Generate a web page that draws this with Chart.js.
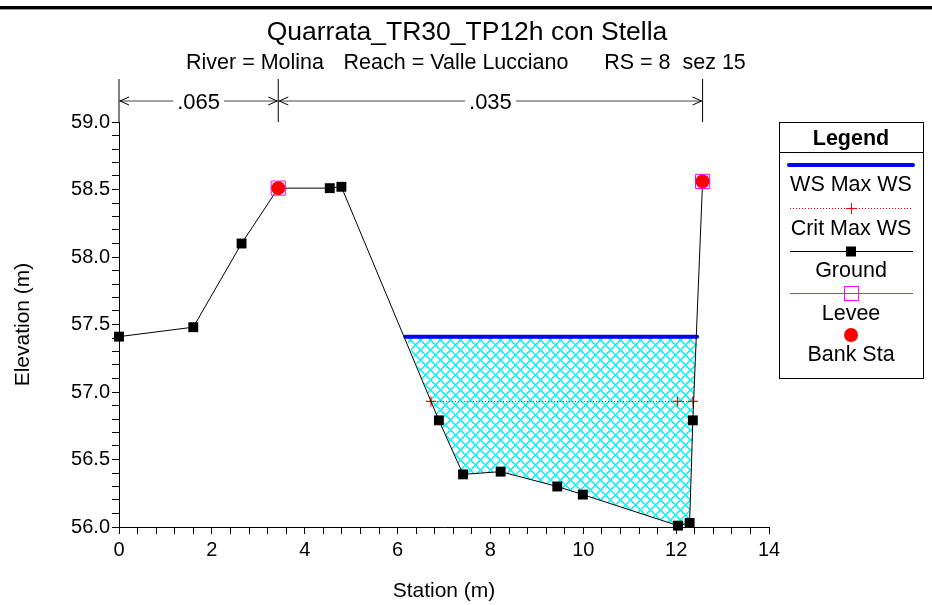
<!DOCTYPE html>
<html>
<head>
<meta charset="utf-8">
<script src="https://cdn.jsdelivr.net/npm/chart.js@4.4.1/dist/chart.umd.min.js"></script>
<style>
  html, body { margin: 0; padding: 0; background: #fff; }
  canvas { display: block; }
</style>
</head>
<body>
<canvas id="xsChart" width="932" height="605"></canvas>
<script>
// ground profile, station (m) / elevation (m)
const groundSta  = [0, 1.60, 2.64, 3.43, 4.54, 4.79, 6.89, 7.41, 8.22, 9.44, 9.99, 12.04, 12.29, 12.36, 12.57];
const groundElev = [57.41, 57.48, 58.10, 58.51, 58.51, 58.52, 56.79, 56.39, 56.41, 56.30, 56.24, 56.01, 56.03, 56.79, 58.56];

// water surface and critical depth
const wsSta = [6.17, 12.45];
const wsElev = 57.41;
const critSta = [6.72, 12.03, 12.36];
const critElev = 56.93;

// levees and bank stations
const bankSta = [3.43, 12.57];
const bankElev = [58.51, 58.56];

// manning n regions
const nSta = [0, 3.43, 12.57];
const nVal = ['.065', '.035'];

// axes
const xRange = [0, 14];
const yRange = [56, 59];
const xMinorStep = 0.4, xLabelStep = 2;
const yMinorStep = 0.1, yLabelStep = 0.5;

const FONT = "'Liberation Sans', Arial, Helvetica, sans-serif";

const canvas = document.getElementById('xsChart');
const ctx = canvas.getContext('2d');

// cyan cross hatch for the wetted area (pixel staircase, like the original)
function makeHatch() {
  const s = 10;
  const c = document.createElement('canvas');
  c.width = s; c.height = s;
  const g = c.getContext('2d');
  g.fillStyle = '#00ffff';
  for (let i = 0; i < s; i++) {
    g.fillRect(i, i, 2, 1);
    g.fillRect((s - 1 - i + s) % s, i, 2, 1);
  }
  g.fillRect(0, s - 1, 1, 1);
  return ctx.createPattern(c, 'repeat');
}

const pts = (xs, ys) => xs.map((x, i) => ({ x: x, y: Array.isArray(ys) ? ys[i] : ys }));

// wetted polygon: water line, then the ground below it back to the start
const wet = pts(groundSta, groundElev).filter(p => p.x > wsSta[0] && p.x < wsSta[1] && p.y < wsElev);
const wetPoly = pts(wsSta, wsElev).concat(wet.reverse());

const isStep = (v, step) => Math.abs(v / step - Math.round(v / step)) < 1e-6;

const annot = {
  id: 'annot',
  beforeDraw(chart) {
    const c = chart.ctx;
    c.save();
    c.fillStyle = '#fff';
    c.fillRect(0, 0, chart.width, chart.height);
    c.restore();
  },
  afterDraw(chart) {
    const c = chart.ctx;
    const x = chart.scales.x;
    const area = chart.chartArea;
    c.save();

    // top rule
    c.fillStyle = '#000';
    c.fillRect(0, 6, chart.width, 3);
    c.fillStyle = '#999';
    c.fillRect(0, 9, chart.width, 1);

    // titles
    c.fillStyle = '#000';
    c.textAlign = 'center';
    c.textBaseline = 'alphabetic';
    c.font = '26.5px ' + FONT;
    c.fillText('Quarrata_TR30_TP12h con Stella', 467, 40);
    c.font = '21.5px ' + FONT;
    c.fillText('River = Molina', 255, 69);
    c.fillText('Reach = Valle Lucciano', 456, 69);
    c.fillText('RS = 8  sez 15', 675, 69);

    // manning n bars
    const xs = nSta.map(v => x.getPixelForValue(v));
    const yA = 101;
    c.strokeStyle = '#000';
    c.lineWidth = 1;
    c.beginPath();
    xs.forEach(px => { c.moveTo(px, 79); c.lineTo(px, area.top); });
    c.stroke();
    c.font = '22px ' + FONT;
    for (let i = 0; i < nVal.length; i++) {
      const a = xs[i], b = xs[i + 1], mid = (a + b) / 2;
      const w = c.measureText(nVal[i]).width;
      c.strokeStyle = '#444';
      c.beginPath();
      c.moveTo(a, yA); c.lineTo(mid - w / 2 - 4, yA);
      c.moveTo(mid + w / 2 + 4, yA); c.lineTo(b, yA);
      c.stroke();
      c.strokeStyle = '#000';
      c.beginPath();
      c.moveTo(a + 10, yA - 4); c.lineTo(a + 1, yA); c.lineTo(a + 10, yA + 4);
      c.moveTo(b - 10, yA - 4); c.lineTo(b - 1, yA); c.lineTo(b - 10, yA + 4);
      c.stroke();
      c.fillText(nVal[i], mid, yA + 8);
    }

    // legend box
    const L = 779, R = 923, T = 122, B = 378, cx = (L + R) / 2;
    c.strokeStyle = '#000';
    c.lineWidth = 1;
    c.strokeRect(L + 0.5, T + 0.5, R - L, B - T);
    c.beginPath(); c.moveTo(L, 152.5); c.lineTo(R, 152.5); c.stroke();
    c.font = 'bold 21.5px ' + FONT;
    c.fillText('Legend', cx, 145);
    c.font = '21.5px ' + FONT;
    const labels = [['WS Max WS', 183], ['Crit Max WS', 227], ['Ground', 269], ['Levee', 312], ['Bank Sta', 353]];
    labels.forEach(([t, y]) => c.fillText(t, cx, y + 8));

    // WS
    c.strokeStyle = '#0000ff'; c.lineWidth = 4; c.lineCap = 'round';
    c.beginPath(); c.moveTo(789, 165); c.lineTo(913, 165); c.stroke();
    c.lineCap = 'butt';
    // crit
    c.strokeStyle = '#ff0000'; c.lineWidth = 1; c.setLineDash([1, 2]);
    c.beginPath(); c.moveTo(790, 208.5); c.lineTo(913, 208.5); c.stroke();
    c.setLineDash([]);
    c.beginPath(); c.moveTo(cx - 5, 208.5); c.lineTo(cx + 5, 208.5); c.moveTo(cx + 0.5, 203); c.lineTo(cx + 0.5, 214); c.stroke();
    // ground
    c.strokeStyle = '#000';
    c.beginPath(); c.moveTo(790, 251.5); c.lineTo(913, 251.5); c.stroke();
    c.fillStyle = '#000'; c.fillRect(cx - 5, 246.5, 10, 10);
    // levee
    c.strokeStyle = '#ff00ff';
    c.beginPath(); c.moveTo(790, 293.5); c.lineTo(913, 293.5); c.stroke();
    c.strokeRect(cx - 6.5, 286.5, 14, 14);
    // bank sta
    c.fillStyle = '#ff0000';
    c.beginPath(); c.arc(cx, 335, 7, 0, Math.PI * 2); c.fill();

    c.restore();
  }
};

new Chart(ctx, {
  type: 'scatter',
  data: {
    datasets: [
      {
        label: 'wetted area',
        data: wetPoly,
        showLine: true,
        fill: 'shape',
        backgroundColor: makeHatch(),
        borderWidth: 0,
        borderColor: 'rgba(0,0,0,0)',
        pointRadius: 0,
        order: 6
      },
      {
        label: 'WS Max WS',
        data: pts(wsSta, wsElev),
        showLine: true,
        borderColor: '#0000ff',
        borderWidth: 4,
        borderCapStyle: 'round',
        pointRadius: 0,
        order: 5
      },
      {
        label: 'Crit Max WS',
        data: pts(critSta, critElev),
        showLine: true,
        borderColor: '#ff0000',
        borderWidth: 1,
        borderDash: [1, 2],
        pointStyle: 'cross',
        pointRadius: 5,
        pointBorderColor: '#ff0000',
        pointBorderWidth: 1.2,
        order: 4
      },
      {
        label: 'Ground',
        data: pts(groundSta, groundElev),
        showLine: true,
        borderColor: '#000',
        borderWidth: 1,
        pointStyle: 'rect',
        pointRadius: 7,
        pointBackgroundColor: '#000',
        pointBorderColor: '#000',
        pointBorderWidth: 0,
        clip: false,
        order: 3
      },
      {
        label: 'Levee',
        data: pts(bankSta, bankElev),
        showLine: false,
        pointStyle: 'rect',
        pointRadius: 10,
        pointBackgroundColor: 'rgba(0,0,0,0)',
        pointBorderColor: '#ff00ff',
        pointBorderWidth: 1,
        clip: false,
        order: 2
      },
      {
        label: 'Bank Sta',
        data: pts(bankSta, bankElev),
        showLine: false,
        pointStyle: 'circle',
        pointRadius: 7,
        pointBackgroundColor: '#ff0000',
        pointBorderWidth: 0,
        clip: false,
        order: 1
      }
    ]
  },
  options: {
    responsive: false,
    animation: false,
    events: [],
    layout: { padding: { left: 0, right: 163, top: 122, bottom: 0 } },
    plugins: {
      legend: { display: false },
      title: { display: false },
      tooltip: { enabled: false }
    },
    scales: {
      x: {
        type: 'linear',
        min: xRange[0],
        max: xRange[1],
        afterFit: s => { s.height = 78; },
        border: { color: '#000', width: 1 },
        grid: { drawOnChartArea: false, color: '#000', tickLength: 7 },
        ticks: {
          stepSize: xMinorStep,
          autoSkip: false,
          maxRotation: 0,
          padding: 4,
          color: '#000',
          font: { family: FONT, size: 20 },
          callback: v => isStep(v, xLabelStep) ? String(Math.round(v)) : ''
        },
        title: {
          display: true,
          text: 'Station (m)',
          color: '#000',
          font: { family: FONT, size: 21 },
          padding: { top: 0, bottom: 1 }
        }
      },
      y: {
        type: 'linear',
        min: yRange[0],
        max: yRange[1],
        afterFit: s => { s.width = 119; },
        border: { color: '#000', width: 1 },
        grid: { drawOnChartArea: false, color: '#000', tickLength: 7 },
        ticks: {
          stepSize: yMinorStep,
          autoSkip: false,
          padding: 2,
          color: '#000',
          font: { family: FONT, size: 20 },
          callback: v => isStep(v, yLabelStep) ? v.toFixed(1) : ''
        },
        title: {
          display: true,
          text: 'Elevation (m)',
          color: '#000',
          font: { family: FONT, size: 21 },
          padding: { top: 11, bottom: 0 }
        }
      }
    }
  },
  plugins: [annot]
});
</script>
</body>
</html>
